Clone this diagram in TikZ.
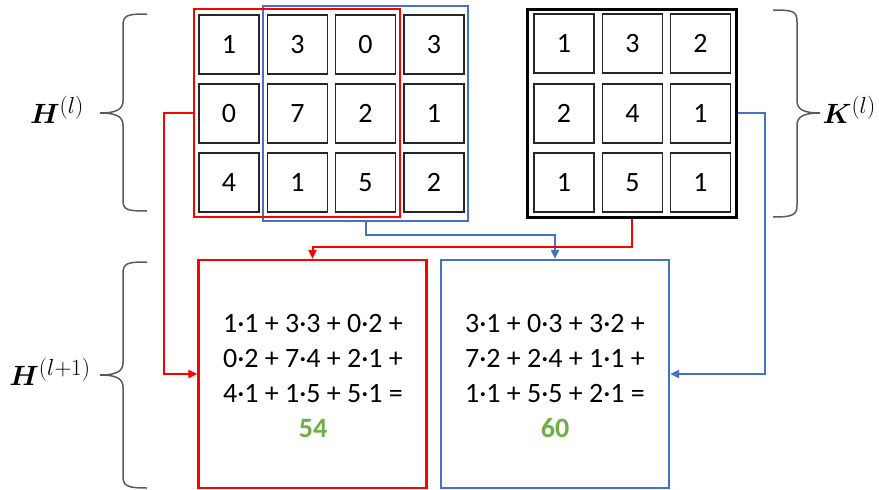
\documentclass[tikz,border=0pt]{standalone}
\usepackage{amsmath,bm}
\usepackage{graphicx}
\usepackage{fontspec}
\setmainfont{Carlito}
\usetikzlibrary{arrows.meta}
\definecolor{myblue}{RGB}{68,114,196}
\definecolor{mygreen}{RGB}{112,173,71}
\definecolor{bracegray}{RGB}{90,90,90}
\tikzset{
  cell/.style={draw=black!85, line width=1.2pt, minimum width=60pt, minimum height=59pt, inner sep=0pt, font=\fontsize{28}{28}\selectfont},
  win/.style={line width=2.3pt, inner sep=0pt},
  outbox/.style={line width=2.3pt, inner sep=0pt, minimum width=228pt, minimum height=228pt},
  eq/.style={align=center, inner sep=0pt, font=\fontsize{28}{35}\selectfont},
  conn/.style={line width=2pt, -{Triangle[length=9pt,width=8pt]}},
  brace/.style={draw=bracegray, line width=1.5pt},
  lbl/.style={inner sep=0pt, font=\fontsize{24.88}{25}\selectfont}
}
\newcommand{\biglbl}[1]{\scalebox{1.12}{#1}}
\begin{document}
\begin{tikzpicture}[x=1pt,y=-1pt]
\useasboundingbox (0,0) rectangle (879,490);
% H matrix cells
\node[cell] (h11) at (229,44.5) {1};
\node[cell] (h12) at (297.5,44.5) {3};
\node[cell] (h13) at (365.5,44.5) {0};
\node[cell] (h14) at (434,44.5) {3};
\node[cell] (h21) at (229,113.5) {0};
\node[cell] (h22) at (297.5,113.5) {7};
\node[cell] (h23) at (365.5,113.5) {2};
\node[cell] (h24) at (434,113.5) {1};
\node[cell] (h31) at (229,182.5) {4};
\node[cell] (h32) at (297.5,182.5) {1};
\node[cell] (h33) at (365.5,182.5) {5};
\node[cell] (h34) at (434,182.5) {2};
% windows
\node[win, draw=myblue, minimum width=205pt, minimum height=215pt] (bwin) at (365.5,113.5) {};
\node[win, draw=red, minimum width=206pt, minimum height=208pt] (rwin) at (297,113) {};
% K matrix
\node[cell] (k11) at (564,43.5) {1};
\node[cell] (k12) at (632.5,43.5) {3};
\node[cell] (k13) at (700.5,43.5) {2};
\node[cell] (k21) at (564,113.5) {2};
\node[cell] (k22) at (632.5,113.5) {4};
\node[cell] (k23) at (700.5,113.5) {1};
\node[cell] (k31) at (564,182.5) {1};
\node[cell] (k32) at (632.5,182.5) {5};
\node[cell] (k33) at (700.5,182.5) {1};
\node[draw=black, line width=3pt, inner sep=0pt, minimum width=209pt, minimum height=208pt] (kbox) at (631.5,113) {};
% output boxes
\node[outbox, draw=red] (rout) at (312.5,374) {};
\node[outbox, draw=myblue] (bout) at (555,374) {};
\node[eq] (req) at (313,376) {1·1 + 3·3 + 0·2 +\\0·2 + 7·4 + 2·1 +\\4·1 + 1·5 + 5·1 =\\{\color{mygreen}\bfseries 54}};
\node[eq] (beq) at (555,376) {3·1 + 0·3 + 3·2 +\\7·2 + 2·4 + 1·1 +\\1·1 + 5·5 + 2·1 =\\{\color{mygreen}\bfseries 60}};
% connectors
\draw[conn, red] (rwin.west) -- ++(-29,0) |- (rout.west);
\draw[conn, myblue] (bwin.south) -- ++(0,13) -| (bout.north);
\draw[conn, red] (kbox.south) -- ++(0,28) -| (rout.north);
\draw[conn, myblue] (kbox.east) -- ++(27,0) |- (bout.east);
% braces
\draw[brace] (147,14) .. controls (127,14) and (123,15) .. (123,26) -- (123,101) .. controls (123,110) and (115,113) .. (100,113) .. controls (115,113) and (123,116) .. (123,125) -- (123,200) .. controls (123,210) and (127,211) .. (147,211);
\draw[brace] (147,262) .. controls (127,262) and (123,263) .. (123,274) -- (123,363) .. controls (123,372) and (115,375) .. (100,375) .. controls (115,375) and (123,378) .. (123,387) -- (123,476) .. controls (123,486) and (127,488) .. (147,488);
\draw[brace] (773,10) .. controls (793,10) and (797,11) .. (797,22) -- (797,101) .. controls (797,110) and (805,113) .. (820,113) .. controls (805,113) and (797,116) .. (797,125) -- (797,205) .. controls (797,215) and (793,217) .. (773,217);
% labels
\node[lbl] (hl) at (57,110) {\biglbl{$\bm{H}^{(l)}$}};
\node[lbl] (hl1) at (50,372) {\biglbl{$\bm{H}^{(l+1)}$}};
\node[lbl, anchor=east] (kl) at (876,110) {\biglbl{$\bm{K}^{(l)}$}};
\end{tikzpicture}
\end{document}
